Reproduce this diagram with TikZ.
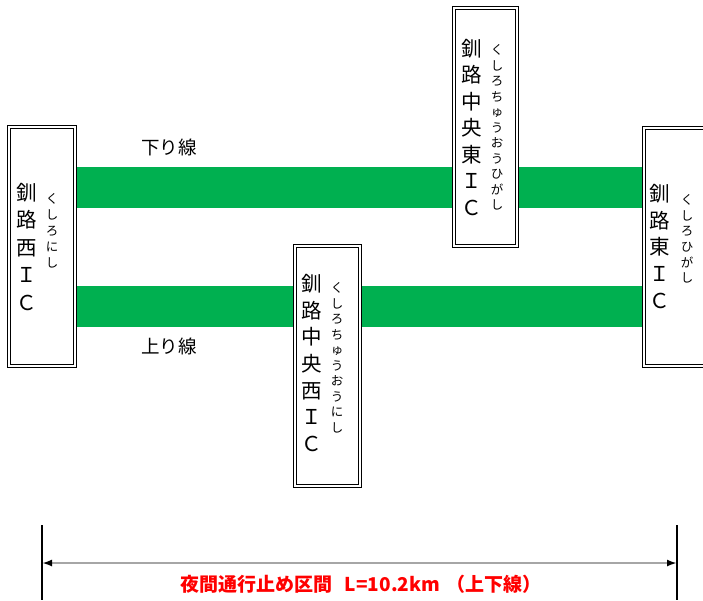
\documentclass[tikz,border=0pt]{standalone}
\usepackage{fontspec}
\setmainfont{Noto Sans CJK JP}
\usetikzlibrary{arrows.meta}
\definecolor{bandgreen}{HTML}{00B050}
\definecolor{dimgray}{HTML}{A6A6A6}
\begin{document}
\begin{tikzpicture}[x=1pt,y=-1pt,
  icbox/.style={draw=black, line width=1.5pt, double=white, double distance=1.5pt,
    fill=white, inner sep=0pt, minimum width=#1},
  icbox/.default=66pt,
  band/.style={draw=bandgreen, line width=41pt},
  kanji/.style={font=\fontsize{20.5}{#1}\selectfont, align=center, inner sep=0pt},
  kana/.style={font=\fontsize{12.5}{#1}\selectfont, align=center, inner sep=0pt},
  linelbl/.style={font=\fontsize{18.5}{20}\selectfont, inner sep=0pt},
  dimtick/.style={draw=black, line width=1.3pt},
  dimarrow/.style={draw=dimgray, line width=2pt,
    {Latex[color=black,length=10pt,width=7pt]}-{Latex[color=black,length=10pt,width=7pt]}},
  redlbl/.style={font=\bfseries\fontsize{19}{20}\selectfont, text=red, inner sep=0pt}]
\useasboundingbox (0,0) rectangle (703,600);
\coordinate (yd) at (0,187.5);
\coordinate (yu) at (0,306.5);
% anchors of the end boxes, used by the bands
\path (42,246.5) node[minimum width=66pt, minimum height=239pt, inner sep=0pt] (L) {};
\path (677,247) node[minimum width=66pt, minimum height=238pt, inner sep=0pt] (R) {};
% bands
\draw[band] (L.east |- yd) -- (R.west |- yd);
\draw[band] (L.east |- yu) -- (R.west |- yu);
% boxes
\node[icbox, minimum height=239pt] (Lb) at (42,246.5) {};
\node[icbox, minimum height=238pt] (Rb) at (677,247) {};
\node[icbox=63pt, minimum height=238pt] (ME) at (485.5,127) {};
\node[icbox=65pt, minimum height=240pt] (MW) at (327.5,366) {};
% texts in boxes
\node[kanji=27.5pt] (Lk) at (27,247) {釧\\路\\西\\Ｉ\\Ｃ};
\node[kana=16pt] (Lf) at (52,230.5) {く\\し\\ろ\\に\\し};
\node[kanji=26.5pt] (MEk) at (472,127.5) {釧\\路\\中\\央\\東\\Ｉ\\Ｃ};
\node[kana=15.5pt] (MEf) at (497,127.5) {く\\し\\ろ\\ち\\ゅ\\う\\お\\う\\ひ\\が\\し};
\node[kanji=26.7pt] (MWk) at (312,363) {釧\\路\\中\\央\\西\\Ｉ\\Ｃ};
\node[kana=15.5pt] (MWf) at (337,358) {く\\し\\ろ\\ち\\ゅ\\う\\お\\う\\に\\し};
\node[kanji=26.75pt] (Rk) at (660,246.5) {釧\\路\\東\\Ｉ\\Ｃ};
\node[kana=15.6pt] (Rf) at (687,239) {く\\し\\ろ\\ひ\\が\\し};
% line labels
\node[linelbl] (down) at (169,147) {下り線};
\node[linelbl] (up) at (169,346) {上り線};
% dimension
\coordinate (t1a) at (42,525);
\coordinate (t1b) at (42,600);
\coordinate (t2a) at (677,525);
\coordinate (t2b) at (677,600);
\coordinate (A) at (42,563);
\coordinate (B) at (677,563);
\draw[dimtick] (t1a) -- (t1b);
\draw[dimtick] (t2a) -- (t2b);
\draw[dimarrow] (A) -- (B);
\node[redlbl] (sect) at (361,584) {夜間通行止め区間\hspace{12pt}L=10.2km\hspace{6pt}（上下線）};
\end{tikzpicture}
\end{document}
